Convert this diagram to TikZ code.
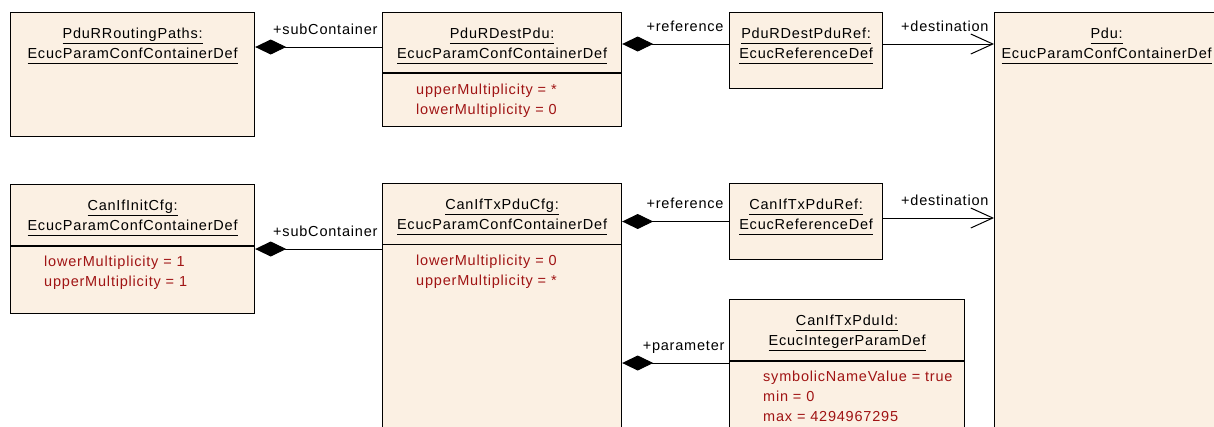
\documentclass[tikz,border=0pt]{standalone}
\usepackage{fontspec}
\setmainfont{Liberation Sans}[LetterSpace=5.5]
\usetikzlibrary{arrows.meta, positioning}

\definecolor{clsfill}{RGB}{251,240,227}
\definecolor{attrred}{RGB}{160,20,20}
\newcommand{\uname}[1]{\underline{#1\vphantom{g}}}

\begin{document}
\begin{tikzpicture}[
    x=1pt, y=-1pt,
    font=\fontsize{14.5}{20}\selectfont,
    cls/.style={
        rectangle, draw, line width=1.2pt, fill=clsfill,
        anchor=north west, inner sep=0pt
    },
    ttl/.style={align=center, inner sep=0pt},
    attr/.style={align=left, anchor=north west, text=attrred, inner sep=0pt},
    sepline/.style={line width=1.2pt},
    lbl/.style={anchor=base east, inner sep=0pt, xshift=-4pt, yshift=13pt},
    compo/.style={{Diamond[length=31pt, width=15pt]}-, line width=1pt},
    assoc/.style={-{Straight Barb[length=22pt, width=20pt, line width=1pt]}, line width=1pt},
]

\clip (0,0) rectangle (1214,426);
\fill[white] (0,0) rectangle (1214,426);

% Row 1: routing path, destination pdu, reference
\node[cls, minimum width=244, minimum height=124] (routing) at (10,12) {};
\node[ttl] at ([yshift=-34]routing.north) {\uname{PduRRoutingPaths:}\\\uname{EcucParamConfContainerDef}};

\node[cls, minimum width=239, minimum height=114] (destpdu) at (382,12) {};
\node[ttl] at ([yshift=-34]destpdu.north) {\uname{PduRDestPdu:}\\\uname{EcucParamConfContainerDef}};
\draw[sepline] ([yshift=-61]destpdu.north west) -- ([yshift=-61]destpdu.north east);
\node[attr] at ([xshift=34, yshift=-72]destpdu.north west) {upperMultiplicity = *\\lowerMultiplicity = 0};

\node[cls, minimum width=153, minimum height=76] (destref) at (729,12) {};
\node[ttl] at ([yshift=-34]destref.north) {\uname{PduRDestPduRef:}\\\uname{EcucReferenceDef}};

% Target container on the right
\node[cls, minimum width=224, minimum height=440] (pdu) at (994,12) {};
\node[ttl] at ([yshift=-34]pdu.north) {\uname{Pdu:}\\\uname{EcucParamConfContainerDef}};

% Row 2: init config, tx pdu config, reference and parameter
\node[cls, minimum width=244, minimum height=129] (initcfg) at (10,184) {};
\node[ttl] at ([yshift=-34]initcfg.north) {\uname{CanIfInitCfg:}\\\uname{EcucParamConfContainerDef}};
\draw[sepline] ([yshift=-62]initcfg.north west) -- ([yshift=-62]initcfg.north east);
\node[attr] at ([xshift=34, yshift=-72]initcfg.north west) {lowerMultiplicity = 1\\upperMultiplicity = 1};

\node[cls, minimum width=239, minimum height=260] (txcfg) at (382,183) {};
\node[ttl] at ([yshift=-34]txcfg.north) {\uname{CanIfTxPduCfg:}\\\uname{EcucParamConfContainerDef}};
\draw[sepline] ([yshift=-61.5]txcfg.north west) -- ([yshift=-61.5]txcfg.north east);
\node[attr] at ([xshift=34, yshift=-72]txcfg.north west) {lowerMultiplicity = 0\\upperMultiplicity = *};

\node[cls, minimum width=153, minimum height=76] (txref) at (729,183) {};
\node[ttl] at ([yshift=-34]txref.north) {\uname{CanIfTxPduRef:}\\\uname{EcucReferenceDef}};

\node[cls, minimum width=235, minimum height=140] (txid) at (729,299) {};
\node[ttl] at ([yshift=-34]txid.north) {\uname{CanIfTxPduId:}\\\uname{EcucIntegerParamDef}};
\draw[sepline] ([yshift=-62]txid.north west) -- ([yshift=-62]txid.north east);
\node[attr] at ([xshift=34, yshift=-72]txid.north west) {symbolicNameValue = true\\min = 0\\max = 4294967295};

% Connectors
\draw[compo] ([yshift=-35]routing.north east) -- ([yshift=-35]routing.north east -| destpdu.west) node[lbl, pos=1] {+subContainer};
\draw[compo] ([yshift=-32]destpdu.north east) -- ([yshift=-32]destpdu.north east -| destref.west) node[lbl, pos=1, xshift=-1pt] {+reference};
\draw[assoc] ([yshift=-32]destref.north east) -- ([yshift=-32]destref.north east -| pdu.west) node[lbl, pos=1, xshift=-1pt] {+destination};

\draw[compo] ([yshift=-65]initcfg.north east) -- ([yshift=-65]initcfg.north east -| txcfg.west) node[lbl, pos=1] {+subContainer};
\draw[compo] ([yshift=-38.5]txcfg.north east) -- ([yshift=-38.5]txcfg.north east -| txref.west) node[lbl, pos=1, xshift=-1pt] {+reference};
\draw[assoc] ([yshift=-35]txref.north east) -- ([yshift=-35]txref.north east -| pdu.west) node[lbl, pos=1, xshift=-1pt] {+destination};
\draw[compo] ([yshift=-180]txcfg.north east) -- ([yshift=-180]txcfg.north east -| txid.west) node[lbl, pos=1] {+parameter};

\end{tikzpicture}
\end{document}
